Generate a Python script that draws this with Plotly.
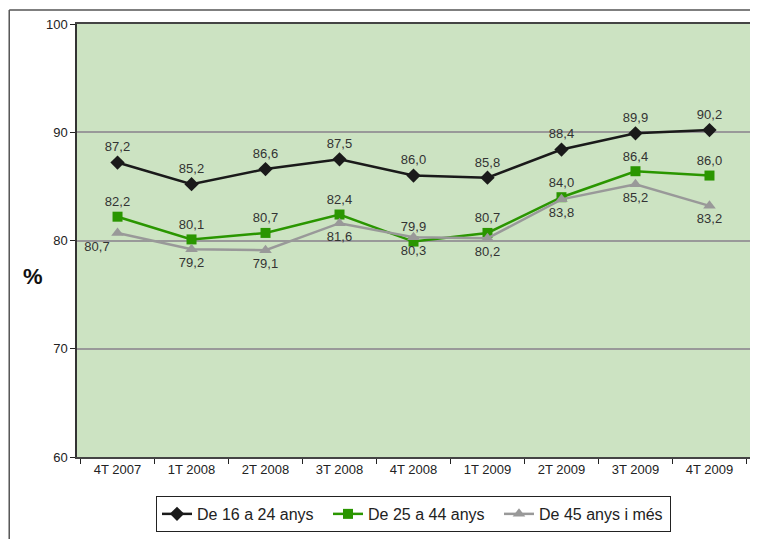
import plotly.graph_objects as go

categories = ["4T 2007", "1T 2008", "2T 2008", "3T 2008", "4T 2008", "1T 2009", "2T 2009", "3T 2009", "4T 2009"]
s16_24 = [87.2, 85.2, 86.6, 87.5, 86.0, 85.8, 88.4, 89.9, 90.2]
s25_44 = [82.2, 80.1, 80.7, 82.4, 79.9, 80.7, 84.0, 86.4, 86.0]
s45 = [80.7, 79.2, 79.1, 81.6, 80.3, 80.2, 83.8, 85.2, 83.2]
names = ["De 16 a 24 anys", "De 25 a 44 anys", "De 45 anys i més"]

def fmt(v):
    return f"{v:.1f}".replace(".", ",")

lab_font = dict(size=13, color="#333333")

fig = go.Figure()
fig.add_trace(go.Scatter(
    x=categories, y=s16_24, name=names[0], mode="lines+markers+text",
    line=dict(color="#1a1a1a", width=2.5),
    marker=dict(symbol="diamond", size=11, color="#1a1a1a"),
    text=[fmt(v) for v in s16_24], textposition="top center",
    textfont=lab_font,
))
fig.add_trace(go.Scatter(
    x=categories, y=s25_44, name=names[1], mode="lines+markers+text",
    line=dict(color="#2a9600", width=2.5),
    marker=dict(symbol="square", size=10, color="#2a9600"),
    text=[fmt(v) for v in s25_44], textposition="top center",
    textfont=lab_font,
))
fig.add_trace(go.Scatter(
    x=categories, y=s45, name=names[2], mode="lines+markers+text",
    line=dict(color="#999999", width=2.5),
    marker=dict(symbol="triangle-up", size=11, color="#999999"),
    text=[fmt(v) for v in s45],
    textposition=["bottom left"] + ["bottom center"] * 8,
    textfont=lab_font,
))

fig.update_layout(
    width=750, height=531,
    margin=dict(l=69, r=6, t=16, b=82),
    paper_bgcolor="white",
    plot_bgcolor="#cce3c2",
    font=dict(family="Liberation Sans, Arial, sans-serif", size=13, color="#222222"),
    showlegend=True,
    legend=dict(
        orientation="h", x=0.5, y=-0.09, xanchor="center", yanchor="top",
        bordercolor="#222222", borderwidth=1, bgcolor="white",
        font=dict(size=16, color="#222222"),
        entrywidth=126, entrywidthmode="pixels",
    ),
    xaxis=dict(
        type="category", showgrid=False, ticks="outside", tickson="boundaries",
        ticklen=5, tickcolor="#222222", showline=True, linecolor="#444444",
        linewidth=1.5, mirror=True, tickfont=dict(size=13),
    ),
    yaxis=dict(
        range=[60, 100], dtick=10, ticks="outside", ticklen=5, tickcolor="#222222",
        showgrid=True, gridcolor="#999999", gridwidth=2,
        showline=True, linecolor="#333333", linewidth=1.5, mirror=True,
        zeroline=False, tickfont=dict(size=13),
    ),
    shapes=[
        dict(type="line", xref="paper", yref="paper", x0=-0.1007, x1=1.02, y0=1.0323, y1=1.0323,
             line=dict(color="#555555", width=1.5)),
        dict(type="line", xref="paper", yref="paper", x0=-0.1007, x1=-0.1007, y0=1.0323, y1=-0.2,
             line=dict(color="#555555", width=1.5)),
    ],
    annotations=[
        dict(text="<b>%</b>", xref="paper", yref="paper", x=-0.065, y=0.418,
             xanchor="center", yanchor="middle",
             showarrow=False, font=dict(size=22, color="#111111")),
    ],
)

fig.write_html("out.html")
